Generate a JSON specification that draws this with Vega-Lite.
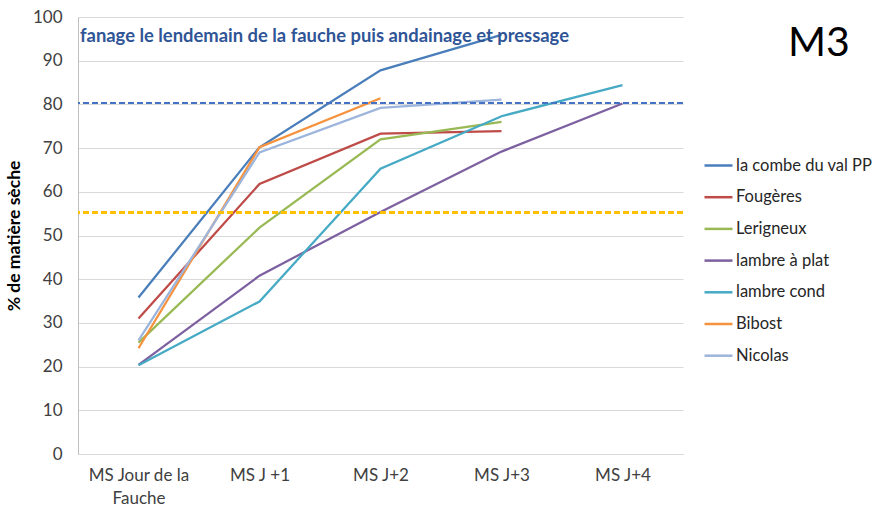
{
  "$schema": "https://vega.github.io/schema/vega-lite/v6.json",
  "width": 605,
  "height": 437,
  "padding": {"left": 5, "top": 8, "right": 0, "bottom": 0},
  "background": "white",
  "config": {
    "font": "Lato",
    "view": {"stroke": null}
  },
  "title": {
    "text": "fanage le lendemain de la fauche puis andainage et pressage",
    "anchor": "start",
    "frame": "group",
    "offset": -37,
    "dx": 2,
    "fontSize": 18.4,
    "fontWeight": "bold",
    "color": "#2F5597",
    "font": "Lato"
  },
  "data": {
    "values": [
      {"series": "la combe du val PP", "step": "MS Jour de la Fauche", "ms": 35.8},
      {"series": "la combe du val PP", "step": "MS J +1", "ms": 70.2},
      {"series": "la combe du val PP", "step": "MS J+2", "ms": 87.8},
      {"series": "la combe du val PP", "step": "MS J+3", "ms": 95.9},
      {"series": "Fougères", "step": "MS Jour de la Fauche", "ms": 31.0},
      {"series": "Fougères", "step": "MS J +1", "ms": 61.8},
      {"series": "Fougères", "step": "MS J+2", "ms": 73.3},
      {"series": "Fougères", "step": "MS J+3", "ms": 73.9},
      {"series": "Lerigneux", "step": "MS Jour de la Fauche", "ms": 25.5},
      {"series": "Lerigneux", "step": "MS J +1", "ms": 51.8},
      {"series": "Lerigneux", "step": "MS J+2", "ms": 72.0},
      {"series": "Lerigneux", "step": "MS J+3", "ms": 76.0},
      {"series": "lambre à plat", "step": "MS Jour de la Fauche", "ms": 20.4},
      {"series": "lambre à plat", "step": "MS J +1", "ms": 40.8},
      {"series": "lambre à plat", "step": "MS J+2", "ms": 55.4},
      {"series": "lambre à plat", "step": "MS J+3", "ms": 69.2},
      {"series": "lambre à plat", "step": "MS J+4", "ms": 80.2},
      {"series": "lambre cond", "step": "MS Jour de la Fauche", "ms": 20.3},
      {"series": "lambre cond", "step": "MS J +1", "ms": 34.9},
      {"series": "lambre cond", "step": "MS J+2", "ms": 65.3},
      {"series": "lambre cond", "step": "MS J+3", "ms": 77.3},
      {"series": "lambre cond", "step": "MS J+4", "ms": 84.4},
      {"series": "Bibost", "step": "MS Jour de la Fauche", "ms": 24.2},
      {"series": "Bibost", "step": "MS J +1", "ms": 70.2},
      {"series": "Bibost", "step": "MS J+2", "ms": 81.4},
      {"series": "Nicolas", "step": "MS Jour de la Fauche", "ms": 26.0},
      {"series": "Nicolas", "step": "MS J +1", "ms": 69.0},
      {"series": "Nicolas", "step": "MS J+2", "ms": 79.2},
      {"series": "Nicolas", "step": "MS J+3", "ms": 81.1}
    ]
  },
  "layer": [
    {
      "mark": {"type": "line", "strokeWidth": 2.25},
      "encoding": {
        "x": {
          "field": "step",
          "type": "nominal",
          "sort": ["MS Jour de la Fauche", "MS J +1", "MS J+2", "MS J+3", "MS J+4"],
          "scale": {"domain": ["MS Jour de la Fauche", "MS J +1", "MS J+2", "MS J+3", "MS J+4"]},
          "axis": {
            "title": null,
            "labelAngle": 0,
            "ticks": false,
            "grid": false,
            "domainColor": "#D9D9D9",
            "labelFontSize": 17,
            "labelColor": "#404040",
            "labelPadding": 13,
            "labelLineHeight": 23,
            "labelExpr": "datum.label == 'MS Jour de la Fauche' ? ['MS Jour de la', 'Fauche'] : datum.label"
          }
        },
        "y": {
          "field": "ms",
          "type": "quantitative",
          "scale": {"domain": [0, 100], "nice": false},
          "axis": {
            "title": "% de matière sèche",
            "titleFontSize": 17.5,
            "titleFontWeight": "bold",
            "titleColor": "#000000",
            "titlePadding": 9,
            "values": [0, 10, 20, 30, 40, 50, 60, 70, 80, 90, 100],
            "ticks": false,
            "labelFontSize": 17,
            "labelColor": "#404040",
            "labelPadding": 16,
            "gridColor": "#D9D9D9",
            "gridWidth": 1.2,
            "domainColor": "#BFBFBF"
          }
        },
        "color": {
          "field": "series",
          "type": "nominal",
          "scale": {
            "domain": ["la combe du val PP", "Fougères", "Lerigneux", "lambre à plat", "lambre cond", "Bibost", "Nicolas"],
            "range": ["#4A7EBB", "#BE4B48", "#98B954", "#7D60A0", "#46AAC5", "#F6923D", "#9DB5DC"]
          },
          "legend": {
            "title": "M3",
            "titleFontSize": 41,
            "titleFontWeight": "normal",
            "titleColor": "#000000",
            "titleAnchor": "middle",
            "titleAlign": "left",
            "titlePadding": 85,
            "orient": "none",
            "legendX": 625,
            "legendY": 7,
            "symbolType": "stroke",
            "symbolSize": 784,
            "symbolStrokeWidth": 2.5,
            "labelFontSize": 16.5,
            "labelColor": "#262626",
            "labelOffset": 2,
            "labelLimit": 180,
            "rowPadding": 7.7
          }
        }
      }
    },
    {
      "mark": {"type": "rule", "color": "#4472C4", "strokeWidth": 2, "strokeDash": [6, 3]},
      "encoding": {"y": {"datum": 80.3}}
    },
    {
      "mark": {"type": "rule", "color": "#FFC000", "strokeWidth": 2, "strokeDash": [6, 3]},
      "encoding": {"y": {"datum": 55.3}}
    }
  ]
}
